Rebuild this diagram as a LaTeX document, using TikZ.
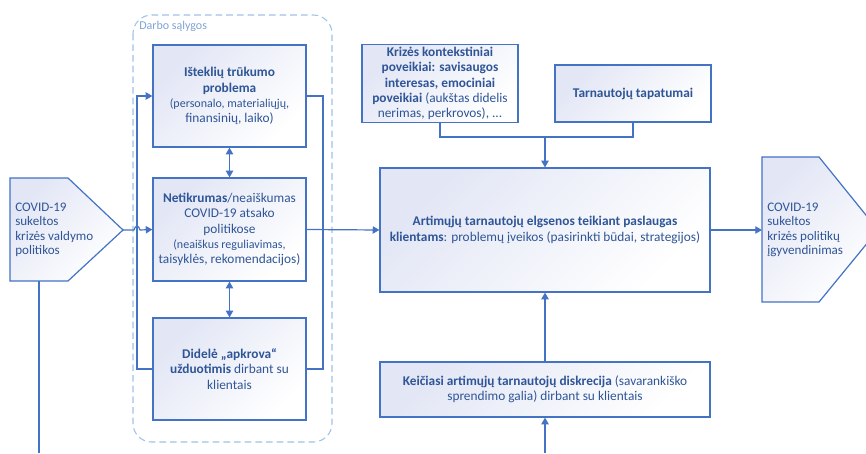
\documentclass[tikz,border=0pt]{standalone}
\usepackage{fontspec}
\setmainfont{Carlito}
\usetikzlibrary{arrows.meta}
\definecolor{linec}{HTML}{4472C4}
\definecolor{textc}{HTML}{2F5597}
\definecolor{shadec}{HTML}{E2E6F5}
\definecolor{dashc}{HTML}{9DC3E6}
\definecolor{labelc}{HTML}{7FA3D6}
\newcommand{\mainfont}{\fontsize{10}{11.4}\selectfont}
\newcommand{\notefont}{\fontsize{9}{11}\selectfont}

\begin{document}
\begin{tikzpicture}[x=0.75pt, y=-0.75pt,
	box/.style={draw=linec, line width=0.9pt, top color=shadec, bottom color=white, shading angle=45,
		text=textc, align=center, font=\mainfont, inner sep=2pt},
	pentagon/.style={draw=linec, line width=0.9pt, top color=shadec, bottom color=white, shading angle=45},
	link/.style={draw=linec, line width=0.9pt},
	arrow/.style={link, -{Triangle[length=5pt, width=5.5pt]}},
	twoway/.style={link, {Triangle[length=5pt, width=5.5pt]}-{Triangle[length=5pt, width=5.5pt]}}]
	\useasboundingbox (0,0) rectangle (866,453);
	\clip (0,0) rectangle (866,453);

	% working conditions
	\draw[dashc, line width=0.8pt, dash pattern=on 5pt off 3pt, rounded corners=14pt] (133,15) rectangle (332,442);
	\node[anchor=west, text=labelc, font=\fontsize{9}{10}\selectfont, inner sep=0pt] (conditions) at (139,26) {Darbo sąlygos};

	\node[box, minimum width=114.75pt, minimum height=76.5pt] (resource) at (229.5,96)
		{\textbf{Išteklių trūkumo}\\\textbf{problema}\\\notefont(personalo, materialiųjų,\\finansinių, laiko)};
	\node[box, minimum width=114.75pt, minimum height=77.25pt] (uncertain) at (229.5,229.5)
		{\textbf{Netikrumas}/neaiškumas\\COVID-19 atsako\\politikose\\\notefont(neaiškus reguliavimas,\\taisyklės, rekomendacijos)};
	\node[box, minimum width=114.75pt, minimum height=76.5pt] (workload) at (229.5,369)
		{\textbf{Didelė „apkrova“}\\\textbf{užduotimis} dirbant su\\klientais};

	% policy input and output
	\draw[pentagon] (10,178) -- (68,178) -- (123,230) -- (68,281) -- (10,281) -- cycle;
	\coordinate (intip) at (123,230);
	\coordinate (inbase) at (39,281);
	\node[anchor=west, text=textc, align=left, font=\fontsize{9.8}{10.9}\selectfont, inner sep=0pt] (policyin) at (15,230)
		{COVID-19\\sukeltos\\krizės valdymo\\politikos};

	\draw[pentagon] (762,157) -- (819,157) -- (878,230) -- (819,302) -- (762,302) -- cycle;
	\coordinate (outbase) at (762,230);
	\node[anchor=west, text=textc, align=left, font=\fontsize{9.8}{10.9}\selectfont, inner sep=0pt] (policyout) at (767,230)
		{COVID-19\\sukeltos\\krizės politikų\\įgyvendinimas};

	% behaviour
	\node[box, minimum width=117pt, minimum height=57.75pt] (context) at (440,83.5)
		{\textbf{Krizės kontekstiniai}\\\textbf{poveikiai: savisaugos}\\\textbf{interesas, emociniai}\\\textbf{poveikiai} (aukštas didelis\\nerimas, perkrovos), ...};
	\node[box, minimum width=117pt, minimum height=42.75pt] (identity) at (633,93.5)
		{\textbf{Tarnautojų tapatumai}};
	\node[box, minimum width=247.5pt, minimum height=93pt] (behaviour) at (545,230)
		{\textbf{Artimųjų tarnautojų elgsenos teikiant paslaugas}\\\textbf{klientams}: problemų įveikos (pasirinkti būdai, strategijos)};
	\node[box, minimum width=247.5pt, minimum height=41.25pt] (discretion) at (545,389.5)
		{\textbf{Keičiasi artimųjų tarnautojų diskrecija} (savarankiško\\sprendimo galia) dirbant su klientais};

	\coordinate (join) at (545,137);
	\coordinate (leftrail) at (137,0);
	\coordinate (rightrail) at (323,0);
	\coordinate (bottomin) at (545,453);

	% connectors
	\draw[arrow] (intip) -- (134,230) .. controls (135,225) and (139,225) .. (140,230) -- (uncertain.west);
	\draw[link] (inbase) -- (39,453);
	\draw[arrow] (workload.west) -- (leftrail |- workload.west) -- (leftrail |- resource.west) -- (resource.west);
	\draw[link] (resource.east) -- (rightrail |- resource.east) -- (rightrail |- workload.east) -- (workload.east);
	\draw[twoway] (resource.south) -- (uncertain.north);
	\draw[twoway] (uncertain.south) -- (workload.north);
	\draw[arrow] (uncertain.east) -- (behaviour.west);
	\draw[link] (context.south) |- (join) -| (identity.south);
	\draw[arrow] (join) -- (behaviour.north);
	\draw[arrow] (discretion.north) -- (behaviour.south);
	\draw[arrow] (bottomin) -- (discretion.south);
	\draw[arrow] (behaviour.east) -- (outbase);
\end{tikzpicture}
\end{document}
